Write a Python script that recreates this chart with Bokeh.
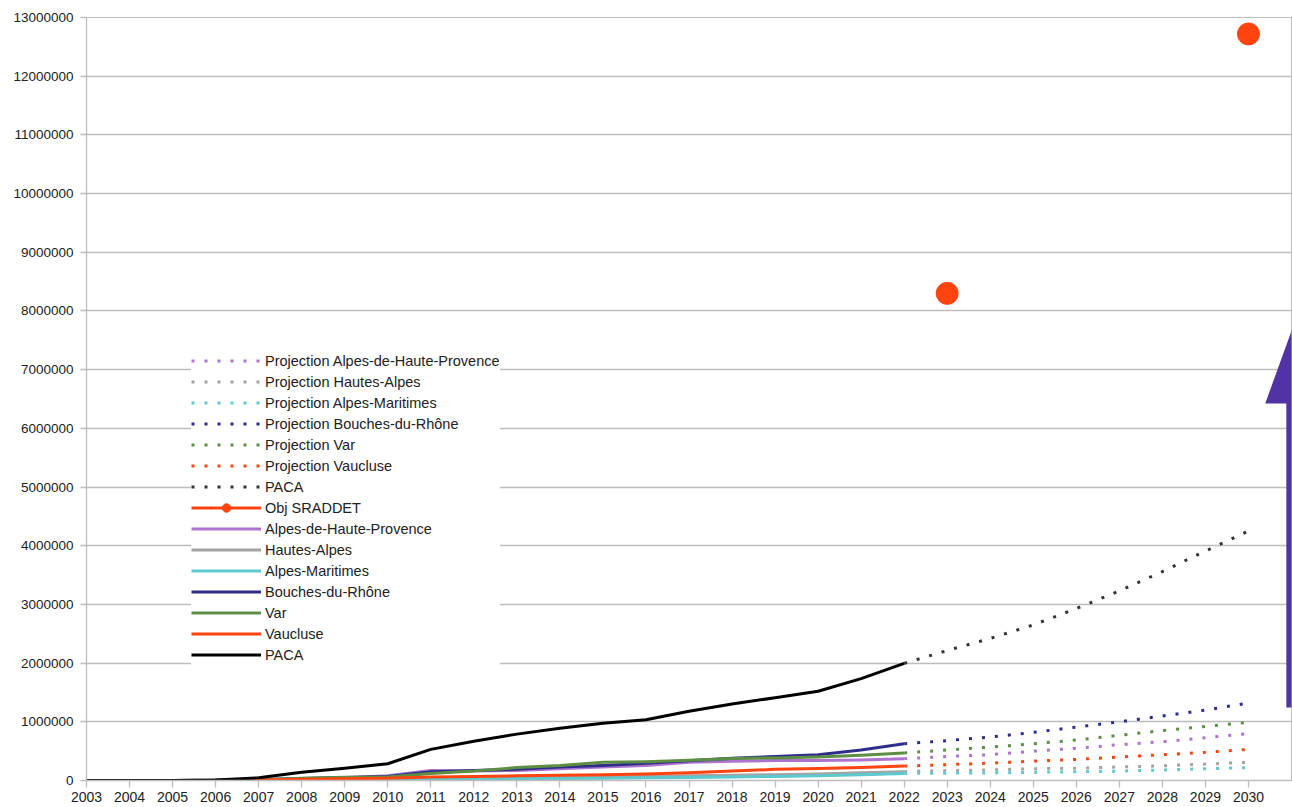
import math
from bokeh.plotting import figure
from bokeh.models import Range1d, FixedTicker, BasicTickFormatter, Legend, LegendItem, PolyAnnotation
from bokeh.embed import file_html
from bokeh.resources import INLINE

# ---------------- data ----------------
years = list(range(2003, 2023))
proj_years = list(range(2022, 2031))
axis_years = list(range(2003, 2031))
y_ticks = list(range(0, 13000001, 1000000))

paca = [0, 0, 0, 10000, 45000, 140000, 210000, 285000, 530000, 670000,
        790000, 890000, 975000, 1035000, 1180000, 1305000, 1410000, 1520000, 1735000, 1995000]
ahp = [0, 0, 0, 0, 5000, 20000, 45000, 80000, 170000, 160000,
       170000, 200000, 230000, 255000, 310000, 330000, 340000, 340000, 350000, 370000]
hautes_alpes = [0, 0, 0, 0, 3000, 10000, 20000, 30000, 40000, 45000,
                50000, 55000, 60000, 70000, 80000, 90000, 100000, 110000, 130000, 150000]
alpes_maritimes = [0, 0, 0, 0, 2000, 5000, 8000, 10000, 15000, 20000,
                   30000, 35000, 40000, 45000, 50000, 60000, 70000, 80000, 100000, 120000]
bdr = [0, 0, 0, 5000, 15000, 35000, 50000, 70000, 150000, 170000,
       190000, 230000, 255000, 295000, 335000, 380000, 410000, 440000, 520000, 625000]
var = [0, 0, 0, 3000, 10000, 40000, 55000, 60000, 120000, 160000,
       220000, 255000, 310000, 320000, 345000, 375000, 385000, 400000, 430000, 470000]
vaucluse = [0, 0, 0, 2000, 10000, 20000, 30000, 40000, 60000, 70000,
            80000, 90000, 100000, 110000, 130000, 160000, 190000, 205000, 220000, 245000]

proj_ahp = [370000, 410000, 440000, 500000, 550000, 610000, 660000, 730000, 800000]
proj_hautes_alpes = [150000, 170000, 180000, 200000, 210000, 230000, 250000, 280000, 310000]
proj_alpes_maritimes = [120000, 125000, 130000, 140000, 150000, 160000, 180000, 200000, 220000]
proj_bdr = [625000, 680000, 740000, 820000, 910000, 1000000, 1100000, 1200000, 1320000]
proj_var = [470000, 520000, 570000, 625000, 690000, 770000, 850000, 920000, 990000]
proj_vaucluse = [245000, 270000, 295000, 330000, 360000, 400000, 440000, 480000, 530000]
proj_paca = [1995000, 2215000, 2420000, 2650000, 2930000, 3230000, 3560000, 3910000, 4250000]

sraddet_years = [2023, 2030]
sraddet_values = [8300000, 12720000]

# ---------------- style ----------------
FONT = "Liberation Sans"
C_AHP = "#ad74cf"
C_HA = "#a3a3a3"
C_AM = "#5cc9cf"
C_BDR = "#2e2e8a"
C_VAR = "#5e8e44"
C_VAU = "#ff4410"
C_PACA = "#000000"
C_PACA_PROJ = "#333333"
C_OBJ = "#ff4410"
GRID = "#bdbdbd"

p = figure(width=1300, height=815, output_backend="svg", toolbar_location=None,
           x_range=Range1d(2003, 2031), y_range=Range1d(0, 13000000),
           min_border_left=94, min_border_right=1, min_border_top=25, min_border_bottom=27,
           margin=(-8, -8, -8, -8))
p.background_fill_color = "white"
p.border_fill_color = "white"
p.outline_line_color = GRID
p.outline_line_width = 1

p.xaxis.ticker = FixedTicker(ticks=axis_years)
p.yaxis.ticker = FixedTicker(ticks=y_ticks)
p.yaxis.formatter = BasicTickFormatter(use_scientific=False)
p.xgrid.visible = False
p.ygrid.grid_line_color = GRID
p.ygrid.grid_line_width = 1.3

for ax in (p.xaxis[0], p.yaxis[0]):
    ax.axis_line_color = GRID
    ax.axis_line_width = 1.3
    ax.major_tick_line_color = GRID
    ax.major_tick_line_width = 1.3
    ax.major_tick_in = 0
    ax.minor_tick_line_color = None
    ax.major_label_text_font = FONT
    ax.major_label_text_color = "#222222"
p.xaxis.major_tick_out = 7
p.xaxis.major_label_standoff = 4
p.xaxis.major_label_text_font_size = "14px"
p.yaxis.major_tick_out = 6
p.yaxis.major_label_standoff = 7
p.yaxis.major_label_text_font_size = "13.5px"

DOT = "3 10"
items = []

def proj(vals, color, label):
    r = p.line(proj_years, vals, line_color=color, line_width=3, line_dash=DOT)
    items.append(LegendItem(label=label, renderers=[r]))

proj(proj_ahp, C_AHP, "Projection Alpes-de-Haute-Provence")
proj(proj_hautes_alpes, C_HA, "Projection Hautes-Alpes")
proj(proj_alpes_maritimes, C_AM, "Projection Alpes-Maritimes")
proj(proj_bdr, C_BDR, "Projection Bouches-du-Rhône")
proj(proj_var, C_VAR, "Projection Var")
proj(proj_vaucluse, C_VAU, "Projection Vaucluse")
proj(proj_paca, C_PACA_PROJ, "PACA")

# Obj SRADDET: values only at two years, so the series line has gaps everywhere
obj_series = [sraddet_values[sraddet_years.index(y)] if y in sraddet_years else math.nan
              for y in axis_years]
r_obj_line = p.line(axis_years, obj_series, line_color=C_OBJ, line_width=3)
r_obj_pts = p.scatter(sraddet_years, sraddet_values, size=22, marker="circle",
                      fill_color=C_OBJ, line_color=C_OBJ)
items.append(LegendItem(label="Obj SRADDET", renderers=[r_obj_line, r_obj_pts]))

def solid(vals, color, label):
    r = p.line(years, vals, line_color=color, line_width=3, line_join="round")
    items.append(LegendItem(label=label, renderers=[r]))

solid(ahp, C_AHP, "Alpes-de-Haute-Provence")
solid(hautes_alpes, C_HA, "Hautes-Alpes")
solid(alpes_maritimes, C_AM, "Alpes-Maritimes")
solid(bdr, C_BDR, "Bouches-du-Rhône")
solid(var, C_VAR, "Var")
solid(vaucluse, C_VAU, "Vaucluse")
solid(paca, C_PACA, "PACA")

legend = Legend(items=items, location=(105, 115), padding=3, margin=0, spacing=0,
                glyph_width=70, glyph_height=21, label_height=21, label_standoff=4,
                label_text_font=FONT, label_text_font_size="14.5px", label_text_color="#222222",
                border_line_color=None, background_fill_color="white", background_fill_alpha=1.0)
p.add_layout(legend)

# decorative purple arrow at the right edge (annotation)
xc = p.x_range.end + 0.02
sw, hw = 0.14, 0.63
arrow = PolyAnnotation(
    xs=[xc - sw, xc - sw, xc - hw, xc, xc + hw, xc + sw, xc + sw],
    ys=[1244000, 6424000, 6424000, 7700000, 6424000, 6424000, 1244000],
    fill_color="#5233a6", fill_alpha=1.0, line_color=None)
p.add_layout(arrow)

open("out.html", "w").write(file_html(p, INLINE))
